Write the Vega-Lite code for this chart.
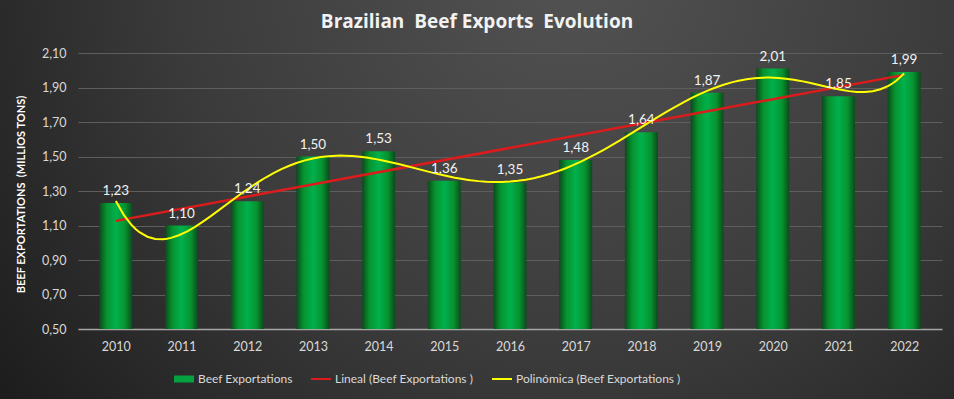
{
  "$schema": "https://vega.github.io/schema/vega-lite/v6.json",
  "width": 954,
  "height": 399,
  "autosize": "none",
  "padding": 0,
  "background": "#2b2b2b",
  "config": {
    "locale": {"number": {"decimal": ",", "thousands": ".", "grouping": [3], "currency": ["", " €"]}},
    "view": {
      "stroke": null,
      "fill": {"gradient": "radial", "x1": 0.6, "y1": 0.25, "r1": 0, "x2": 0.6, "y2": 0.25, "r2": 0.75,
        "stops": [{"offset": 0, "color": "#535353"}, {"offset": 0.55, "color": "#3b3b3b"}, {"offset": 1, "color": "#1d1d1d"}]}
    },
    "font": "Lato"
  },
  "title": {
    "text": "Brazilian\u00a0 Beef Exports\u00a0 Evolution",
    "font": "Open Sans",
    "fontSize": 19,
    "fontWeight": "bold",
    "color": "#f2f2f2",
    "anchor": "middle",
    "frame": "group",
    "offset": -28,
    "dy": 19,
    "baseline": "alphabetic"
  },
  "data": {
    "values": [
      {"year": 2010, "value": 1.23},
      {"year": 2011, "value": 1.10},
      {"year": 2012, "value": 1.24},
      {"year": 2013, "value": 1.50},
      {"year": 2014, "value": 1.53},
      {"year": 2015, "value": 1.36},
      {"year": 2016, "value": 1.35},
      {"year": 2017, "value": 1.48},
      {"year": 2018, "value": 1.64},
      {"year": 2019, "value": 1.87},
      {"year": 2020, "value": 2.01},
      {"year": 2021, "value": 1.85},
      {"year": 2022, "value": 1.99}
    ]
  },
  "encoding": {
    "x": {
      "field": "year", "type": "quantitative",
      "scale": {"domain": [2009.5, 2022.5], "range": [78, 942], "nice": false, "zero": false},
      "axis": {
        "values": [2010, 2011, 2012, 2013, 2014, 2015, 2016, 2017, 2018, 2019, 2020, 2021, 2022],
        "format": "d", "grid": false, "ticks": false,
        "domainColor": "#a6a6a6", "domainWidth": 1.5,
        "labelColor": "#d9d9d9", "labelFontSize": 12.5, "labelFont": "Lato", "labelPadding": 11,
        "offset": -70, "title": null
      }
    },
    "y": {
      "field": "value", "type": "quantitative",
      "scale": {"domain": [0.5, 2.1], "range": [329, 53], "nice": false, "zero": false},
      "axis": {
        "values": [0.5, 0.7, 0.9, 1.1, 1.3, 1.5, 1.7, 1.9, 2.1],
        "format": ".2f", "gridColor": "#5e5e5e", "gridWidth": 1, "ticks": false, "domain": false,
        "labelColor": "#d9d9d9", "labelFontSize": 12.5, "labelFont": "Lato", "labelPadding": 12,
        "offset": -78,
        "title": "BEEF EXPORTATIONS\u00a0 (MILLIOS TONS)",
        "titleColor": "#ffffff", "titleFontSize": 11, "titleFont": "Lato", "titleFontWeight": "bold",
        "titleX": -57, "titleY": 194, "titleAngle": -90, "titleAlign": "center", "titleBaseline": "middle"
      }
    }
  },
  "layer": [
    {
      "mark": {
        "type": "bar", "width": 33,
        "color": {"gradient": "linear", "x1": 0, "y1": 0, "x2": 1, "y2": 0,
          "stops": [{"offset": 0, "color": "#0b4a1c"}, {"offset": 0.22, "color": "#07932f"}, {"offset": 0.5, "color": "#00b14c"}, {"offset": 0.78, "color": "#07932f"}, {"offset": 1, "color": "#0b4a1c"}]}
      },
      "encoding": {"y2": {"datum": 0.5}}
    },
    {
      "transform": [{"regression": "value", "on": "year", "method": "linear"}],
      "mark": {"type": "line", "color": "#dc1c1c", "strokeWidth": 2.5},
      "encoding": {}
    },
    {
      "transform": [{"regression": "value", "on": "year", "method": "poly", "order": 6}],
      "mark": {"type": "line", "color": "#ffff00", "strokeWidth": 2},
      "encoding": {}
    },
    {
      "mark": {"type": "text", "baseline": "bottom", "dy": -5, "fontSize": 13.5, "font": "Lato", "color": "#f2f2f2"},
      "encoding": {"text": {"field": "value", "type": "quantitative", "format": ".2f"}}
    },
    {
      "data": {"values": [
        {"series": "Beef Exportations"},
        {"series": "Lineal (Beef Exportations )"},
        {"series": "Polinómica (Beef Exportations )"}
      ]},
      "mark": {"type": "point", "filled": true, "opacity": 0},
      "encoding": {
        "x": {"datum": 2016},
        "y": {"datum": 1.3},
        "color": {
          "field": "series", "type": "nominal", "sort": null,
          "scale": {"domain": ["Beef Exportations", "Lineal (Beef Exportations )", "Polinómica (Beef Exportations )"], "range": ["#05a040", "#dc1c1c", "#ffff00"]},
          "legend": {
            "orient": "none", "legendX": 174, "legendY": 369, "direction": "horizontal", "title": null,
            "labelColor": "#d9d9d9", "labelFontSize": 12, "labelFont": "Lato", "labelLimit": 400,
            "symbolSize": 400, "symbolOpacity": 1, "symbolStrokeWidth": 0, "columnPadding": 18, "labelOffset": 4
          }
        },
        "shape": {
          "field": "series", "type": "nominal", "sort": null,
          "scale": {"domain": ["Beef Exportations", "Lineal (Beef Exportations )", "Polinómica (Beef Exportations )"], "range": ["M-1,-0.35H1V0.35H-1Z", "M-1,-0.1H1V0.1H-1Z", "M-1,-0.1H1V0.1H-1Z"]},
          "legend": {
            "orient": "none", "legendX": 174, "legendY": 369, "direction": "horizontal", "title": null,
            "labelColor": "#d9d9d9", "labelFontSize": 12, "labelFont": "Lato", "labelLimit": 400,
            "symbolSize": 400, "symbolOpacity": 1, "symbolStrokeWidth": 0, "columnPadding": 18, "labelOffset": 4
          }
        }
      }
    }
  ]
}
